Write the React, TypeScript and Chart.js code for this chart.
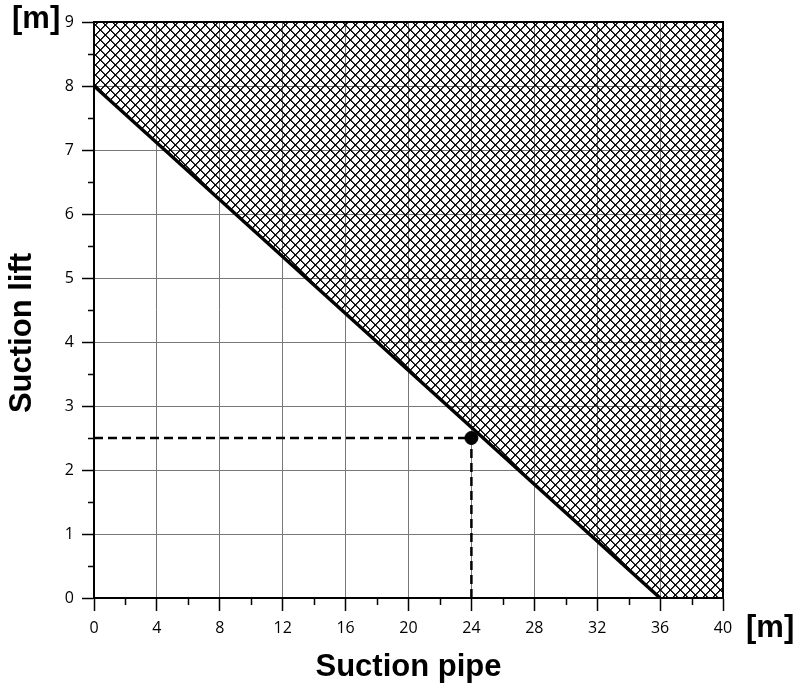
import React, { useEffect, useRef } from "react";
import { Chart, registerables } from "chart.js";

Chart.register(...registerables);

// Axis ranges / ticks
const xMin = 0;
const xMax = 40;
const xStep = 4;
const xMinorStep = 2;
const yMin = 0;
const yMax = 9;
const yStep = 1;
const yMinorStep = 0.5;

// Limit line (suction pipe length vs. suction lift)
const limitX = [0, 36];
const limitY = [8, 0];

// Hatched (not permitted) region boundary: filled up to the top
const hatchX = [0, 36, 40];
const hatchY = [8, 0, 0];

// Operating point
const pointX = [24];
const pointY = [2.5];

// Texts
const xTitle = "Suction pipe";
const yTitle = "Suction lift";
const unitLabel = "[m]";

function makeHatch(ctx: CanvasRenderingContext2D): CanvasPattern | string {
  const c = document.createElement("canvas");
  const s = 10;
  c.width = s;
  c.height = s;
  const g = c.getContext("2d");
  if (!g) return "rgba(0,0,0,0.3)";
  for (let i = 0; i < s; i++) {
    g.fillStyle = "rgba(0,0,0,0.75)";
    g.fillRect((i + 1) % s, i, 1, 1);
    g.fillRect((s - i) % s, i, 1, 1);
    g.fillStyle = "#000";
    g.fillRect(i, i, 1, 1);
    g.fillRect(s - 1 - i, i, 1, 1);
  }
  return ctx.createPattern(c, "repeat") || "rgba(0,0,0,0.3)";
}

const tickFont = { family: "'Open Sans', 'DejaVu Sans', sans-serif", size: 16 };

export default function App() {
  const ref = useRef<HTMLCanvasElement | null>(null);

  useEffect(() => {
    const canvas = ref.current;
    if (!canvas) return;
    const ctx = canvas.getContext("2d");
    if (!ctx) return;
    const hatch = makeHatch(ctx);
    Chart.defaults.font.family = tickFont.family;
    Chart.defaults.font.size = tickFont.size;
    Chart.defaults.color = "#000";

    const toXY = (xs: number[], ys: number[]) => xs.map((x, i) => ({ x, y: ys[i] }));

    const overlay = {
      id: "overlay",
      afterDraw(chart: any) {
        const c = chart.ctx as CanvasRenderingContext2D;
        const area = chart.chartArea;
        const xs = chart.scales.x;
        const ys = chart.scales.y;
        c.save();
        // top and right border
        c.strokeStyle = "#000";
        c.lineWidth = 2;
        c.beginPath();
        c.moveTo(area.left, area.top);
        c.lineTo(area.right, area.top);
        c.lineTo(area.right, area.bottom);
        c.stroke();
        // minor ticks
        c.lineWidth = 1.5;
        c.beginPath();
        for (let v = xMin + xMinorStep; v < xMax; v += xStep) {
          const px = Math.round(xs.getPixelForValue(v)) + 0.5;
          c.moveTo(px, area.bottom);
          c.lineTo(px, area.bottom + 7);
        }
        for (let v = yMin + yMinorStep; v < yMax; v += yStep) {
          const py = Math.round(ys.getPixelForValue(v)) + 0.5;
          c.moveTo(area.left, py);
          c.lineTo(area.left - 6, py);
        }
        c.stroke();
        // titles
        c.fillStyle = "#000";
        c.font = 'bold 31px "Liberation Sans", Arial, sans-serif';
        c.textAlign = "center";
        c.textBaseline = "alphabetic";
        c.fillText(xTitle, (area.left + area.right) / 2, 676);
        c.save();
        c.translate(31, 333);
        c.rotate(-Math.PI / 2);
        c.fillText(yTitle, 0, 0);
        c.restore();
        c.textAlign = "left";
        c.fillText(unitLabel, 12, 28);
        c.fillText(unitLabel, 746, 637);
        c.restore();
      },
    };

    const chart = new Chart(canvas, {
      type: "line",
      data: {
        datasets: [
          {
            label: "point",
            data: toXY(pointX, pointY),
            showLine: false,
            pointRadius: 6.5,
            pointBackgroundColor: "#000",
            pointBorderColor: "#000",
            order: 1,
          },
          {
            label: "limit",
            data: toXY(limitX, limitY),
            borderColor: "#000",
            borderWidth: 3.5,
            pointRadius: 0,
            fill: false,
            order: 2,
          },
          {
            label: "dashH",
            data: [
              { x: xMin, y: pointY[0] },
              { x: pointX[0], y: pointY[0] },
            ],
            borderColor: "#000",
            borderWidth: 2.5,
            borderDash: [9, 5],
            pointRadius: 0,
            fill: false,
            order: 3,
          },
          {
            label: "dashV",
            data: [
              { x: pointX[0], y: yMin },
              { x: pointX[0], y: pointY[0] },
            ],
            borderColor: "#000",
            borderWidth: 2.5,
            borderDash: [9, 5],
            pointRadius: 0,
            fill: false,
            order: 3,
          },
          {
            label: "hatch",
            data: toXY(hatchX, hatchY),
            borderWidth: 0,
            borderColor: "rgba(0,0,0,0)",
            backgroundColor: hatch as any,
            pointRadius: 0,
            fill: "end",
            order: 5,
          },
        ],
      },
      options: {
        animation: false,
        responsive: false,
        devicePixelRatio: 1,
        layout: { padding: { top: 22, right: 79, left: 0, bottom: 0 } },
        plugins: {
          legend: { display: false },
          tooltip: { enabled: false },
          title: { display: false },
        },
        scales: {
          x: {
            type: "linear",
            min: xMin,
            max: xMax,
            ticks: {
              stepSize: xStep,
              color: "#000",
              font: tickFont,
              padding: 8,
              maxRotation: 0,
            },
            grid: {
              color: "#777",
              lineWidth: 1,
              tickLength: 13,
              tickColor: "#000",
              tickWidth: 1.5,
            },
            border: { color: "#000", width: 2 },
            afterFit: (scale: any) => {
              scale.height = 92;
            },
          },
          y: {
            type: "linear",
            min: yMin,
            max: yMax,
            ticks: {
              stepSize: yStep,
              color: "#000",
              font: tickFont,
              padding: 8,
            },
            grid: {
              color: "#777",
              lineWidth: 1,
              tickLength: 12,
              tickColor: "#000",
              tickWidth: 1.5,
            },
            border: { color: "#000", width: 2 },
            afterFit: (scale: any) => {
              scale.width = 94;
            },
          },
        },
      },
      plugins: [overlay],
    } as any);

    return () => chart.destroy();
  }, []);

  return (
    <div style={{ position: "fixed", left: 0, top: 0, width: 802, height: 690, background: "#fff" }}>
      <canvas ref={ref} width={802} height={690} style={{ width: 802, height: 690, display: "block" }} />
    </div>
  );
}
